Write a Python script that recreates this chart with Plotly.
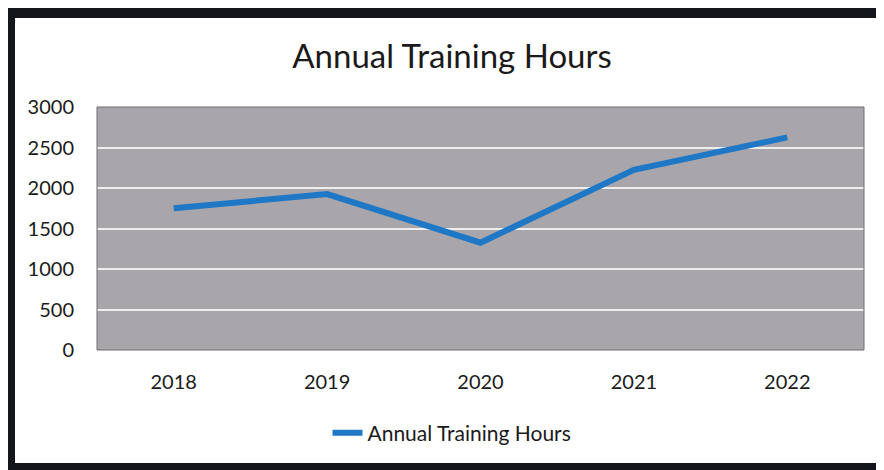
import plotly.graph_objects as go

years = ["2018", "2019", "2020", "2021", "2022"]
hours = [1750, 1925, 1325, 2225, 2625]
series_name = "Annual Training Hours"
title_text = "Annual Training Hours"
y_ticks = [0, 500, 1000, 1500, 2000, 2500, 3000]

# page body has an 8px margin, so the figure is drawn 8px smaller and offset
OFF = 8
W, H = 884 - OFF, 470 - OFF
L, R, T, B = 97 - OFF, 20, 107 - OFF, 120
pw, ph = W - L - R, H - T - B

def px_x(x):  # x in reference-image pixels
    return (x - OFF - L) / pw

def px_y(y):  # y in reference-image pixels
    return 1 - (y - OFF - T) / ph

fig = go.Figure()
fig.add_trace(go.Scatter(
    x=years, y=hours, mode="lines", name=series_name,
    line=dict(color="#1f78c6", width=6),
))

frame = "#15161c"
shapes = [
    dict(type="rect", xref="paper", yref="paper", x0=px_x(7), x1=px_x(15), y0=px_y(8), y1=px_y(472),
         fillcolor=frame, line=dict(width=0), layer="above"),
    dict(type="rect", xref="paper", yref="paper", x0=px_x(7), x1=px_x(890), y0=px_y(8), y1=px_y(18),
         fillcolor=frame, line=dict(width=0), layer="above"),
    dict(type="rect", xref="paper", yref="paper", x0=px_x(7), x1=px_x(890), y0=px_y(463), y1=px_y(472),
         fillcolor=frame, line=dict(width=0), layer="above"),
    dict(type="rect", xref="paper", yref="paper", x0=0, x1=1, y0=0, y1=1,
         line=dict(color="#6e6c72", width=1), layer="above"),
]

fig.update_layout(
    width=W, height=H,
    margin=dict(l=L, r=R, t=T, b=B),
    paper_bgcolor="white",
    plot_bgcolor="#a8a5ab",
    font=dict(family="Lato, Open Sans, sans-serif", color="#1a1a1a"),
    title=dict(text=title_text, x=px_x(452), xanchor="center", xref="paper",
               y=1 - (56 - OFF) / H, yanchor="middle",
               font=dict(size=33, color="#1a1a1a")),
    xaxis=dict(type="category", showgrid=False, zeroline=False, showline=False,
               ticks="", tickfont=dict(size=20), range=[-0.5, 4.5], ticklabelstandoff=18),
    yaxis=dict(range=[0, 3000], tickvals=y_ticks, showgrid=True, gridcolor="#eeeeee",
               gridwidth=2, zeroline=False, showline=False, ticks="",
               tickfont=dict(size=20), ticklabelstandoff=22),
    showlegend=True,
    legend=dict(orientation="h", x=px_x(452), xanchor="center", y=px_y(433), yanchor="middle",
                font=dict(size=21), bgcolor="rgba(0,0,0,0)"),
    shapes=shapes,
)

fig.write_html("out.html")
